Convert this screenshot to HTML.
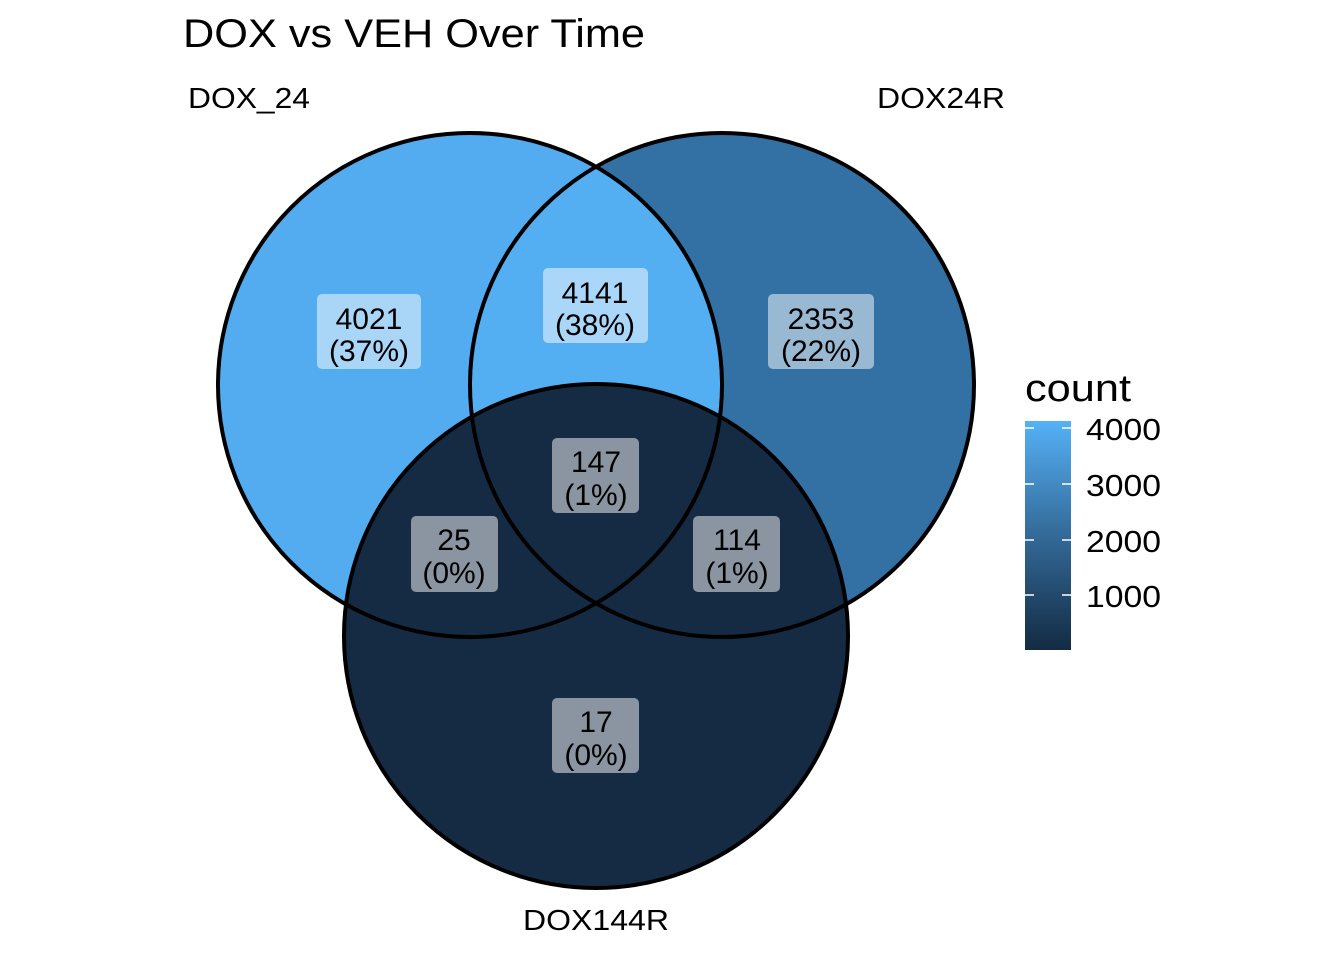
<!DOCTYPE html>
<html><head><meta charset="utf-8"><style>html,body{margin:0;padding:0;background:#fff}svg{display:block}text{font-family:"Liberation Sans",Arial,sans-serif;fill:#000}</style></head>
<body>
<svg width="1344" height="960" viewBox="0 0 1344 960" xmlns="http://www.w3.org/2000/svg">
<defs>
<clipPath id="cb"><circle cx="722" cy="385" r="252"/></clipPath>
<linearGradient id="lg" x1="0" y1="1" x2="0" y2="0">
<stop offset="0" stop-color="#132B43"/><stop offset="0.5" stop-color="#336A98"/><stop offset="1" stop-color="#56B1F7"/>
</linearGradient>
</defs>
<rect width="1344" height="960" fill="#fff"/>
<text x="183" y="47" font-size="40" textLength="462" lengthAdjust="spacingAndGlyphs">DOX vs VEH Over Time</text>
<text x="188" y="108" font-size="29" textLength="122" lengthAdjust="spacingAndGlyphs">DOX_24</text>
<text x="877" y="108" font-size="29" textLength="128" lengthAdjust="spacingAndGlyphs">DOX24R</text>
<text x="523" y="930" font-size="29" textLength="146" lengthAdjust="spacingAndGlyphs">DOX144R</text>
<circle cx="470" cy="385" r="252" fill="#52ACEF"/>
<circle cx="722" cy="385" r="252" fill="#3371A5"/>
<circle cx="470" cy="385" r="252" fill="#54AEF2" clip-path="url(#cb)"/>
<circle cx="596" cy="636" r="252" fill="#152A43"/>
<g fill="none" stroke="#000" stroke-width="4">
<circle cx="470" cy="385" r="252"/><circle cx="722" cy="385" r="252"/><circle cx="596" cy="636" r="252"/>
</g>
<g fill="#fff" fill-opacity="0.5">
<rect x="317" y="294" width="104" height="75" rx="5"/>
<rect x="543" y="268" width="105" height="75" rx="5"/>
<rect x="768" y="294" width="106" height="75" rx="5"/>
<rect x="552" y="438" width="87" height="75" rx="5"/>
<rect x="411" y="516" width="87" height="76" rx="5"/>
<rect x="693" y="516" width="87" height="76" rx="5"/>
<rect x="552" y="698" width="87" height="75" rx="5"/>
</g>
<g font-size="30" text-anchor="middle">
<text x="369" y="329">4021</text><text x="369" y="361">(37%)</text>
<text x="595" y="303">4141</text><text x="595" y="335">(38%)</text>
<text x="821" y="329">2353</text><text x="821" y="361">(22%)</text>
<text x="596" y="472">147</text><text x="596" y="505">(1%)</text>
<text x="454" y="550">25</text><text x="454" y="583">(0%)</text>
<text x="737" y="550">114</text><text x="737" y="583">(1%)</text>
<text x="596" y="732">17</text><text x="596" y="765">(0%)</text>
</g>
<text x="1025" y="401" font-size="38" textLength="106" lengthAdjust="spacingAndGlyphs">count</text>
<rect x="1025" y="421" width="46" height="229" fill="url(#lg)"/>
<g stroke="#fff" stroke-width="1.5">
<line x1="1025" y1="428" x2="1034" y2="428"/><line x1="1062" y1="428" x2="1071" y2="428"/>
<line x1="1025" y1="484" x2="1034" y2="484"/><line x1="1062" y1="484" x2="1071" y2="484"/>
<line x1="1025" y1="540" x2="1034" y2="540"/><line x1="1062" y1="540" x2="1071" y2="540"/>
<line x1="1025" y1="595" x2="1034" y2="595"/><line x1="1062" y1="595" x2="1071" y2="595"/>
</g>
<g font-size="31">
<text x="1086" y="440" textLength="75" lengthAdjust="spacingAndGlyphs">4000</text>
<text x="1086" y="496" textLength="75" lengthAdjust="spacingAndGlyphs">3000</text>
<text x="1086" y="552" textLength="75" lengthAdjust="spacingAndGlyphs">2000</text>
<text x="1086" y="607" textLength="75" lengthAdjust="spacingAndGlyphs">1000</text>
</g>
</svg>
</body></html>
